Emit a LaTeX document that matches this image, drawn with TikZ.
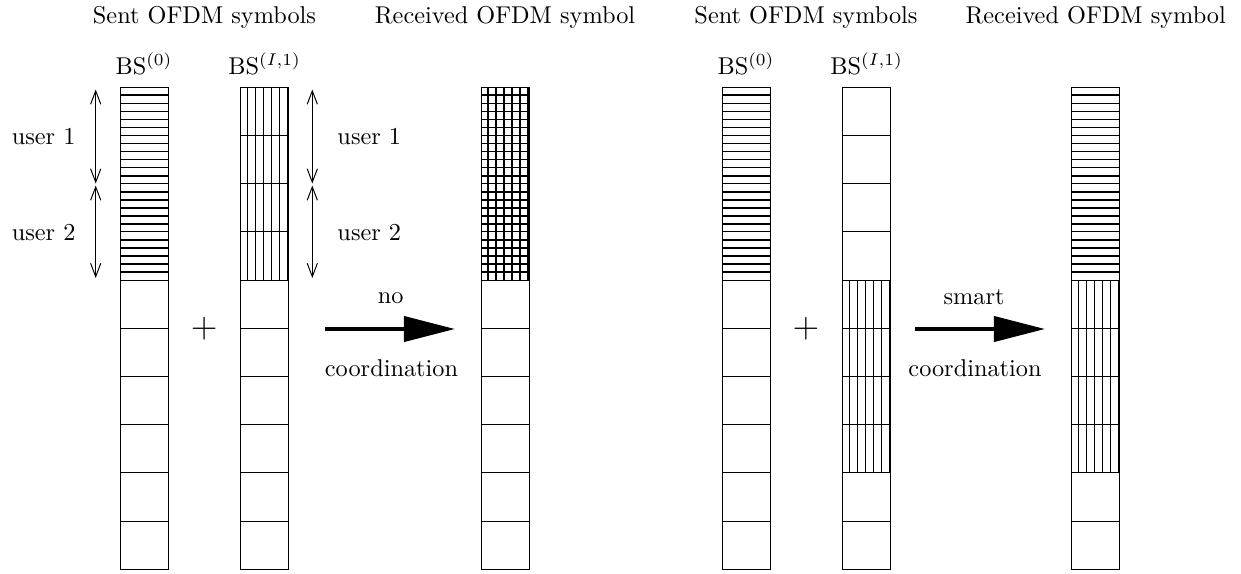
\documentclass[tikz,border=0pt]{standalone}
\usetikzlibrary{arrows.meta,calc}

% one drawing unit = one pixel of the layout grid
\def\pxu{0.4115pt}

\tikzset{
  cell/.style={draw, line width=0.4pt, inner sep=0pt, outer sep=0pt,
    minimum width=48*\pxu, minimum height=48.2*\pxu, anchor=north west},
  blank/.style={},
  hatch/.style={line width=0.7pt, black},
  hlines/.style={path picture={
    \foreach \k in {1,...,5}
      \draw[hatch] ($(path picture bounding box.north west)+(0,\k*8.033)$) -- ++(48,0);}},
  vlines/.style={path picture={
    \foreach \k in {0,...,5}
      \draw[hatch] ($(path picture bounding box.north west)+(6.7+8*\k,0)$) -- ++(0,48.2);}},
  gridlines/.style={path picture={
    \foreach \k in {1,...,5}
      \draw[hatch] ($(path picture bounding box.north west)+(0,\k*8.033)$) -- ++(48,0);
    \foreach \k in {0,...,5}
      \draw[hatch] ($(path picture bounding box.north west)+(6.7+8*\k,0)$) -- ++(0,48.2);}},
  title/.style={anchor=base, inner sep=0pt},
  userlbl/.style={inner sep=0pt},
  span/.style={line width=0.4pt, {Straight Barb[length=5.5pt,width=4.2pt]}-{Straight Barb[length=5.5pt,width=4.2pt]}},
  bigarrow/.style={line width=1.6pt, -{Triangle[length=21pt,width=10.3pt]}},
  plus/.style={inner sep=0pt, font=\Large}
}

% a column of ten subcarrier cells: name prefix, left edge, list cell/style
\newcommand\ofdmcolumn[3]{%
  \foreach \i/\s in {#3}
    \node[cell,\s] (#1\i) at (#2,{87.3+(\i-1)*48.2}) {};}

\begin{document}
\begin{tikzpicture}[x=\pxu, y=-\pxu]
\useasboundingbox (0,0) rectangle (1241,573);

% ---------- left half: no coordination ----------
\ofdmcolumn{a}{120}{1/hlines,2/hlines,3/hlines,4/hlines,5/blank,6/blank,7/blank,8/blank,9/blank,10/blank}
\ofdmcolumn{b}{240.7}{1/vlines,2/vlines,3/vlines,4/vlines,5/blank,6/blank,7/blank,8/blank,9/blank,10/blank}
\ofdmcolumn{c}{481}{1/gridlines,2/gridlines,3/gridlines,4/gridlines,5/blank,6/blank,7/blank,8/blank,9/blank,10/blank}

\node[title] (t1) at (204.5,23.5) {Sent OFDM symbols};
\node[title] (t2) at (505,23.5) {Received OFDM symbol};
\node[title] (bsa) at (144,74) {BS$^{(0)}$};
\node[title] (bsb) at (264.7,74) {BS$^{(I,1)}$};

\coordinate (ua1) at (95.7,89.5);
\coordinate (ua2) at (95.7,183.5);
\coordinate (ua3) at (95.7,185.5);
\coordinate (ua4) at (95.7,278);
\draw[span] (ua1) -- (ua2);
\draw[span] (ua3) -- (ua4);
\node[userlbl, anchor=east] (la1) at (76,136.3) {user 1};
\node[userlbl, anchor=east] (la2) at (76,232.5) {user 2};

\coordinate (ub1) at (312.3,89.5);
\coordinate (ub2) at (312.3,183.5);
\coordinate (ub3) at (312.3,185.5);
\coordinate (ub4) at (312.3,278);
\draw[span] (ub1) -- (ub2);
\draw[span] (ub3) -- (ub4);
\node[userlbl, anchor=west] (lb1) at (337,136.3) {user 1};
\node[userlbl, anchor=west] (lb2) at (337,232.5) {user 2};

\node[plus] (p1) at (204.3,328.3) {$+$};

\coordinate (as1) at (325,329);
\coordinate (ae1) at (455,329);
\draw[bigarrow] (as1) -- (ae1);
\node[title] (no) at (390.7,303.5) {no};
\node[title] (co1) at (391.5,376) {coordination};

% ---------- right half: smart coordination ----------
\ofdmcolumn{d}{722}{1/hlines,2/hlines,3/hlines,4/hlines,5/blank,6/blank,7/blank,8/blank,9/blank,10/blank}
\ofdmcolumn{e}{842.7}{1/blank,2/blank,3/blank,4/blank,5/vlines,6/vlines,7/vlines,8/vlines,9/blank,10/blank}
\ofdmcolumn{f}{1071.7}{1/hlines,2/hlines,3/hlines,4/hlines,5/vlines,6/vlines,7/vlines,8/vlines,9/blank,10/blank}

\node[title] (t3) at (806,23.5) {Sent OFDM symbols};
\node[title] (t4) at (1095.7,23.5) {Received OFDM symbol};
\node[title] (bsd) at (746,74) {BS$^{(0)}$};
\node[title] (bse) at (866.7,74) {BS$^{(I,1)}$};

\node[plus] (p2) at (806,328.3) {$+$};

\coordinate (as2) at (915,329);
\coordinate (ae2) at (1045,329);
\draw[bigarrow] (as2) -- (ae2);
\node[title] (sm) at (974,304.3) {smart};
\node[title] (co2) at (975,376) {coordination};
\end{tikzpicture}
\end{document}
